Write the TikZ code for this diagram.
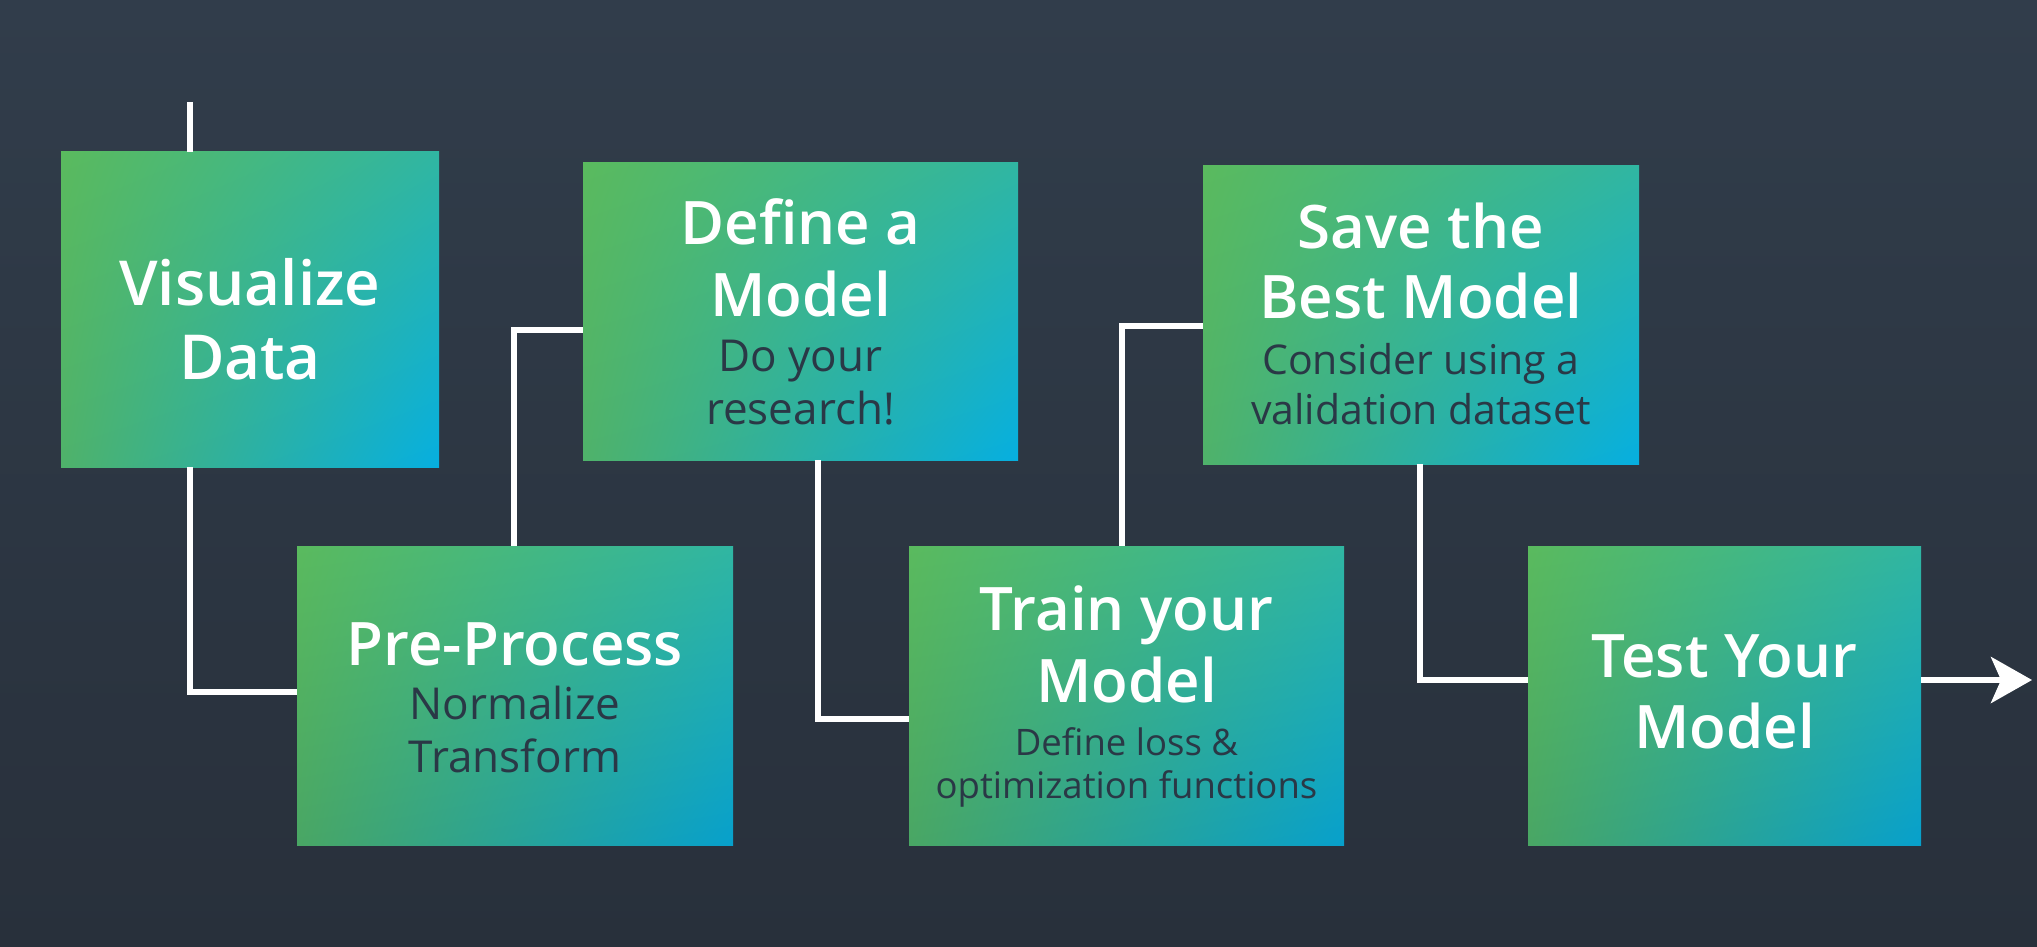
\documentclass[tikz,border=0pt]{standalone}
\usepackage{fontspec}
\setmainfont{Open Sans}
\IfFontExistsTF{Open Sans SemiBold}{\newfontfamily\titlefont{Open Sans SemiBold}}{%
  \IfFontExistsTF{Open Sans Semibold}{\newfontfamily\titlefont{Open Sans Semibold}}{%
    \newfontfamily\titlefont{Open Sans}[FakeBold=0.5]}}
\usetikzlibrary{shadings,arrows.meta}
\definecolor{bgtop}{HTML}{313D4B}
\definecolor{bgbot}{HTML}{28303B}
\definecolor{gUL}{HTML}{5ABA5E}
\definecolor{gUR}{HTML}{30B6A2}
\definecolor{gLL}{HTML}{4FB26A}
\definecolor{gLR}{HTML}{06AFE0}
\definecolor{hLL}{HTML}{49A664}
\definecolor{hLR}{HTML}{07A0CC}
\definecolor{subtxt}{HTML}{2A3846}
\tikzset{
  upbox/.style={shade, shading=bilinear interpolation, upper left=gUL, upper right=gUR,
    lower left=gLL, lower right=gLR, draw=none, inner sep=0pt},
  lowbox/.style={shade, shading=bilinear interpolation, upper left=gUL, upper right=gUR,
    lower left=hLL, lower right=hLR, draw=none, inner sep=0pt},
  ttl/.style={text=white, anchor=base, inner sep=0pt, font=\titlefont\fontsize{60}{72}\selectfont},
  ttlbig/.style={ttl, font=\titlefont\fontsize{62}{74}\selectfont},
  sub/.style={text=subtxt, anchor=base, inner sep=0pt, font=\fontsize{44}{52}\selectfont},
  subm/.style={sub, font=\fontsize{41}{50}\selectfont},
  subs/.style={sub, font=\fontsize{36.5}{43}\selectfont},
  conn/.style={draw=white, line width=6pt},
}
\begin{document}
\begin{tikzpicture}[x=1pt,y=-1pt]
\useasboundingbox (0,0) rectangle (2037,947);
\shade[top color=bgtop, bottom color=bgbot] (0,0) rectangle (2037,947);

% boxes
\node[upbox, minimum width=378pt, minimum height=315pt] (vis) at (250,309.5) {};
\node[lowbox, minimum width=436pt, minimum height=299pt] (pre) at (515,695.5) {};
\node[upbox, minimum width=435pt, minimum height=298pt] (def) at (800.5,311) {};
\node[lowbox, minimum width=435pt, minimum height=299pt] (train) at (1126.5,695.5) {};
\node[upbox, minimum width=436pt, minimum height=299pt] (save) at (1421,314.5) {};
\node[lowbox, minimum width=393pt, minimum height=299pt] (test) at (1724.5,695.5) {};

% texts
\node[ttlbig] (vis1) at (250,305) {Visualize};
\node[ttlbig] (vis2) at (250,379) {Data};

\node[ttl] (pre1) at (515,665) {Pre-Process};
\node[sub] (pre2) at (515,719) {Normalize};
\node[sub] (pre3) at (515,772) {Transform};

\node[ttl] (def1) at (800.5,244) {Define a};
\node[ttl] (def2) at (800.5,316) {Model};
\node[sub] (def3) at (800.5,371) {Do your};
\node[sub] (def4) at (800.5,424) {research!};

\node[ttl] (tr1) at (1126.5,630) {Train your};
\node[ttl] (tr2) at (1126.5,702) {Model};
\node[subs] (tr3) at (1126.5,755) {Define loss \&};
\node[subs] (tr4) at (1126.5,798) {optimization functions};

\node[ttl] (sv1) at (1421,248) {Save the};
\node[ttl] (sv2) at (1421,318) {Best Model};
\node[subm] (sv3) at (1421,374) {Consider using a};
\node[subm] (sv4) at (1421,424) {validation dataset};

\node[ttl] (te1) at (1724.5,677) {Test Your};
\node[ttl] (te2) at (1724.5,748) {Model};

% connector levels
\coordinate (s0) at (190,102);
\coordinate (k1) at (190,692);
\coordinate (k2) at (514,330);
\coordinate (k3) at (818,719);
\coordinate (k4) at (1122,326);
\coordinate (k5) at (1420,680);
\coordinate (tip) at (2032,680);

\draw[conn] (s0) -- (vis.north -| s0);
\draw[conn] (vis.south -| k1) |- (pre.west |- k1);
\draw[conn] (pre.north -| k2) |- (def.west |- k2);
\draw[conn] (def.south -| k3) |- (train.west |- k3);
\draw[conn] (train.north -| k4) |- (save.west |- k4);
\draw[conn] (save.south -| k5) |- (test.west |- k5);
\draw[conn, -{Stealth[length=41pt, width=46pt, inset=10pt]}] (test.east |- k5) -- (tip);
\end{tikzpicture}
\end{document}
